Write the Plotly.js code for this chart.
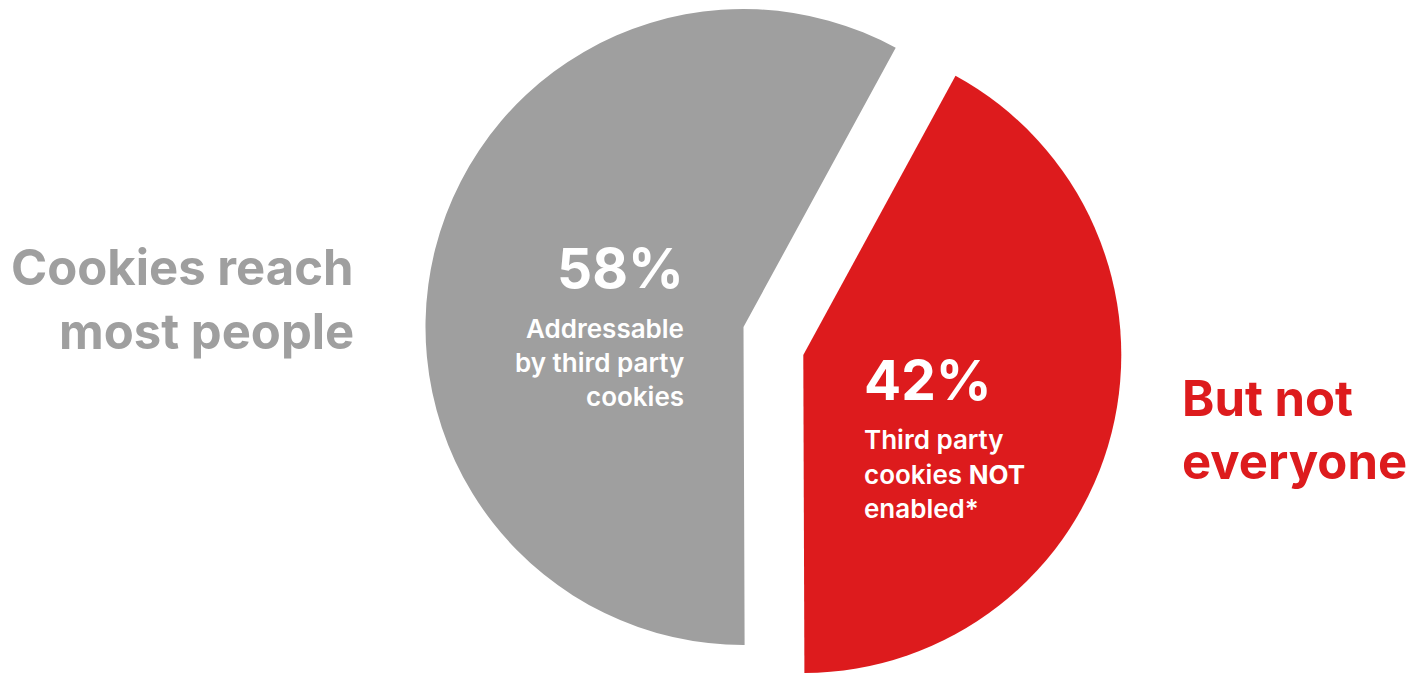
<!DOCTYPE html>
<html>
<head>
<meta charset="utf-8">
<script src="https://cdn.plot.ly/plotly-3.0.1.min.js"></script>
<style>
  html, body { margin: 0; padding: 0; background: #ffffff; overflow: hidden; }
  #chart { width: 1411px; height: 673px; }
</style>
</head>
<body>
<div id="chart"></div>
<script>
// ---- data ----
var categories = ["Third party cookies NOT enabled", "Addressable by third party cookies"];
var shares = [42, 58];
var shareLabels = ["42%", "58%"];
var leftHeadline = ["Cookies reach", "most people"];
var rightHeadline = ["But not", "everyone"];
var grayCaption = ["Addressable", "by third party", "cookies"];
var redCaption = ["Third party", "cookies <b>NOT</b>", "enabled*"];

// ---- style ----
var GRAY = "#9f9f9f";
var RED = "#dd1b1d";
var CLEAR = "rgba(0,0,0,0)";
var W = 1411, H = 673;
var FONT = "Inter, 'Open Sans', sans-serif";

function px(x) { return x / W; }
function py(y) { return 1 - y / H; }

var common = {
  type: "pie",
  labels: categories,
  values: shares,
  sort: false,
  direction: "clockwise",
  rotation: 28.6,
  textinfo: "none",
  hoverinfo: "label+percent",
  showlegend: false
};

var grayTrace = Object.assign({}, common, {
  marker: { colors: [CLEAR, GRAY], line: { width: 0 } },
  domain: { x: [0.22693, 0.82693], y: [0.04161, 0.98663] }
});
var redTrace = Object.assign({}, common, {
  marker: { colors: [RED, CLEAR], line: { width: 0 } },
  domain: { x: [0.26931, 0.86931], y: [0.0, 0.94502] }
});

function ann(text, x, y, anchor, size, color, weight) {
  return {
    text: text, xref: "paper", yref: "paper",
    x: px(x), y: py(y), xanchor: anchor, yanchor: "middle",
    showarrow: false, borderpad: 0, borderwidth: 0,
    font: { family: FONT, size: size, color: color, weight: weight || 700 }
  };
}

var annotations = [
  ann(leftHeadline[0], 354, 268, "right", 49, GRAY),
  ann(leftHeadline[1], 354, 331, "right", 49, GRAY),
  ann(shareLabels[1], 684, 268, "right", 55, "#ffffff"),
  ann(grayCaption[0], 684, 328, "right", 26, "#ffffff", 600),
  ann(grayCaption[1], 684, 362, "right", 26, "#ffffff", 600),
  ann(grayCaption[2], 684, 396, "right", 26, "#ffffff", 600),
  ann(shareLabels[0], 864, 380, "left", 55, "#ffffff"),
  ann(redCaption[0], 864, 439, "left", 26, "#ffffff", 600),
  ann(redCaption[1], 864, 474, "left", 26, "#ffffff", 600),
  ann(redCaption[2], 864, 508, "left", 26, "#ffffff", 600),
  ann(rightHeadline[0], 1182, 398.5, "left", 49, RED),
  ann(rightHeadline[1], 1182, 461, "left", 49, RED)
];

var layout = {
  width: W, height: H,
  margin: { l: 0, r: 0, t: 0, b: 0 },
  paper_bgcolor: "#ffffff",
  plot_bgcolor: "#ffffff",
  showlegend: false,
  annotations: annotations
};

Plotly.newPlot("chart", [grayTrace, redTrace], layout, { displayModeBar: false, staticPlot: true });
</script>
</body>
</html>
